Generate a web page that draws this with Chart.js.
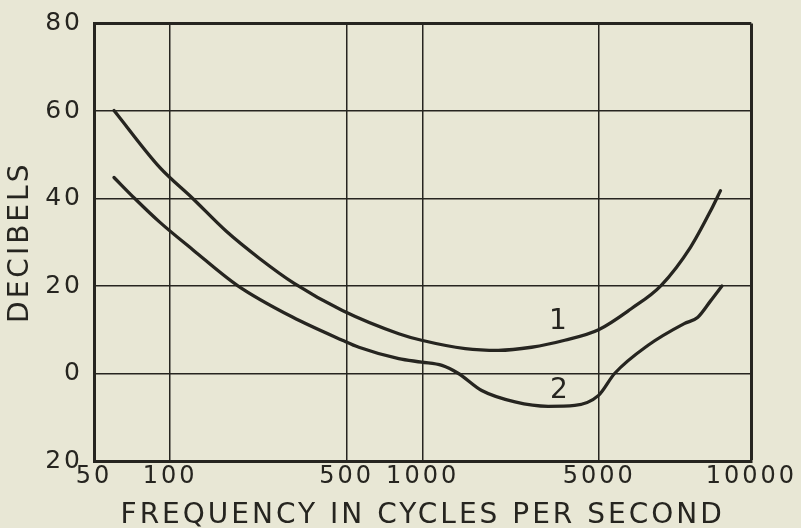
<!DOCTYPE html>
<html>
<head>
<meta charset="utf-8">
<script src="https://cdn.jsdelivr.net/npm/chart.js@4.4.1/dist/chart.umd.min.js"></script>
<style>
  html, body { margin: 0; padding: 0; background: #e8e7d5; }
  canvas { display: block; }
</style>
</head>
<body>
<canvas id="chart" width="801" height="528"></canvas>
<script>
// x is a log axis; the printed "10000" sits at the right edge, which is 20000 in log terms
const xTickValues = [50, 100, 500, 1000, 5000, 20000];
const xTickLabels = ['50', '100', '500', '1000', '5000', '10000'];
const yTickValues = [-20, 0, 20, 40, 60, 80];

// curve 1
const curve1Freq = [60, 91, 123, 167, 226, 310, 481, 804, 990, 1474, 1993, 2697, 3652, 4970, 6690, 8780, 11500, 13800, 15100];
const curve1Db   = [60.1, 47.1, 40.0, 32.5, 26.3, 20.6, 14.4, 9.1, 7.6, 5.7, 5.3, 6.0, 7.6, 10.0, 14.8, 20.1, 28.9, 37.2, 41.8];

// curve 2
const curve2Freq = [60, 72.5, 91, 123, 185, 305, 481, 559, 804, 990, 1192, 1386, 1713, 2320, 3139, 4000, 4970, 5750, 7780, 10850, 12250, 13800, 15300];
const curve2Db   = [44.8, 40.0, 34.6, 28.3, 20.1, 12.9, 7.6, 6.0, 3.4, 2.6, 1.85, 0.0, -3.9, -6.5, -7.5, -7.3, -5.0, 0.0, 6.4, 11.4, 12.8, 16.6, 20.0];

// curve numbers written on the chart
const curveLabels = [
  { text: '1', x: 3430, y: 11.9 },
  { text: '2', x: 3460, y: -3.9 }
];

const PAPER = '#e8e7d5';
const INK   = '#262520';
const FONT  = '"DejaVu Sans", "Liberation Sans", sans-serif';

function toPoints(xs, ys) {
  return xs.map((x, i) => ({ x: x, y: ys[i] }));
}

const paperPlugin = {
  id: 'paper',
  beforeLayout(chart) {
    chart.ctx.letterSpacing = '3px';
  },
  beforeDraw(chart) {
    const ctx = chart.ctx;
    ctx.save();
    ctx.fillStyle = PAPER;
    ctx.fillRect(0, 0, chart.width, chart.height);
    ctx.restore();
    ctx.letterSpacing = '3px';
  },
  afterDatasetsDraw(chart) {
    const { ctx, scales: { x, y } } = chart;
    ctx.save();
    ctx.letterSpacing = '0px';
    ctx.font = '28px ' + FONT;
    ctx.fillStyle = INK;
    ctx.textAlign = 'center';
    ctx.textBaseline = 'middle';
    curveLabels.forEach(l => {
      ctx.fillText(l.text, x.getPixelForValue(l.x), y.getPixelForValue(l.y));
    });
    ctx.restore();
  }
};

Chart.defaults.color = INK;
Chart.defaults.font.family = FONT;

new Chart(document.getElementById('chart'), {
  type: 'line',
  data: {
    datasets: [
      { label: '1', data: toPoints(curve1Freq, curve1Db) },
      { label: '2', data: toPoints(curve2Freq, curve2Db) }
    ]
  },
  options: {
    responsive: false,
    animation: false,
    layout: { padding: { top: 23, right: 47, left: 0, bottom: 0 } },
    elements: {
      line: { borderColor: INK, borderWidth: 3.3, cubicInterpolationMode: 'monotone', borderCapStyle: 'round', fill: false },
      point: { radius: 0, hoverRadius: 0 }
    },
    plugins: {
      legend: { display: false },
      tooltip: { enabled: false }
    },
    scales: {
      x: {
        type: 'logarithmic',
        min: 50,
        max: 20000,
        afterBuildTicks: scale => { scale.ticks = xTickValues.map(v => ({ value: v })); },
        afterFit: scale => { scale.height = 67; },
        grid: {
          color: INK,
          drawTicks: false,
          lineWidth: c => (c.tick && c.tick.value === 20000 ? 3 : 1.5)
        },
        border: { display: true, color: INK, width: 3 },
        ticks: {
          padding: 4,
          autoSkip: false,
          maxRotation: 0,
          font: { size: 24, lineHeight: 1 },
          callback: (v, i) => xTickLabels[i]
        },
        title: {
          display: true,
          text: 'FREQUENCY IN CYCLES PER SECOND',
          font: { size: 28, lineHeight: 0.9 },
          padding: { top: 0, bottom: 0 }
        }
      },
      y: {
        min: -20,
        max: 80,
        afterBuildTicks: scale => { scale.ticks = yTickValues.map(v => ({ value: v })); },
        afterFit: scale => { scale.width = 94; },
        grid: {
          color: INK,
          drawTicks: false,
          lineWidth: c => (c.tick && c.tick.value === 80 ? 3 : 1.5)
        },
        border: { display: true, color: INK, width: 3 },
        ticks: {
          padding: 11,
          font: { size: 25, lineHeight: 1 },
          callback: v => String(Math.abs(v))
        },
        title: {
          display: true,
          text: 'DECIBELS',
          font: { size: 28, lineHeight: 1 },
          padding: { top: 7, bottom: 0 }
        }
      }
    }
  },
  plugins: [paperPlugin]
});
</script>
</body>
</html>
